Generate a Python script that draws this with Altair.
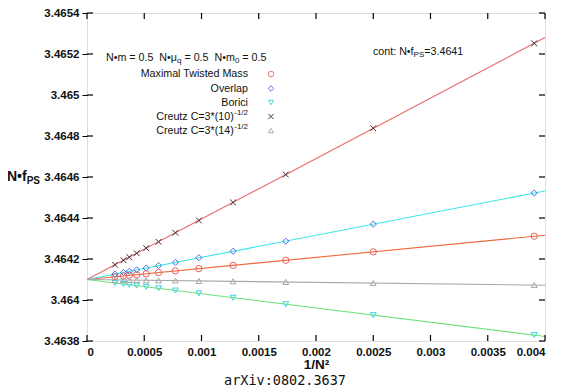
import altair as alt
import pandas as pd

# ---------------- data ----------------
x_vals = [0.003906, 0.0025, 0.001736, 0.001276, 0.000977, 0.000772,
          0.000625, 0.000517, 0.000434, 0.000370, 0.000319, 0.000244]

mtm = [3.464311, 3.464235, 3.464194, 3.464169, 3.464153, 3.464142,
       3.464134, 3.464128, 3.464123, 3.464120, 3.464117, 3.464113]
overlap = [3.464522, 3.464370, 3.464287, 3.464238, 3.464206, 3.464183,
           3.464168, 3.464156, 3.464147, 3.464140, 3.464134, 3.464126]
borici = [3.463829, 3.463926, 3.463979, 3.464011, 3.464032, 3.464046,
          3.464057, 3.464064, 3.464070, 3.464074, 3.464078, 3.464083]
creutz10 = [3.465252, 3.464838, 3.464612, 3.464476, 3.464388, 3.464328,
            3.464284, 3.464253, 3.464228, 3.464209, 3.464194, 3.464172]
creutz14 = [3.464073, 3.464083, 3.464088, 3.464091, 3.464093, 3.464095,
            3.464096, 3.464096, 3.464097, 3.464097, 3.464098, 3.464098]

fit_x = [0.0, 0.004]
fit_mtm = [3.4641, 3.464316]
fit_overlap = [3.4641, 3.464532]
fit_borici = [3.4641, 3.463822]
fit_creutz10 = [3.4641, 3.46528]
fit_creutz14 = [3.4641, 3.464072]

x_ticks = [0, 0.0005, 0.001, 0.0015, 0.002, 0.0025, 0.003, 0.0035, 0.004]
y_ticks = [3.4638, 3.464, 3.4642, 3.4644, 3.4646, 3.4648, 3.465, 3.4652, 3.4654]

# ---------------- layout / style ----------------
W, H = 458, 328
FONT = "Liberation Sans"
CROSS = "M-1,-1L1,1M-1,1L1,-1"

series = [
    # name, values, fit, line colour, point colour, shape, size
    ("Maximal Twisted Mass", mtm, fit_mtm, "#f06a3c", "#e86060", "circle", 40),
    ("Overlap", overlap, fit_overlap, "#3ee6e6", "#5070e0", "diamond", 38),
    ("Borici", borici, fit_borici, "#6ee07a", "#38d4e4", "triangle-down", 34),
    ("Creutz10", creutz10, fit_creutz10, "#e86a6a", "#3e2c2c", CROSS, 34),
    ("Creutz14", creutz14, fit_creutz14, "#a8a8a8", "#a8a8a8", "triangle-up", 34),
]

xscale = alt.Scale(domain=[0, 0.004], nice=False, zero=False)
yscale = alt.Scale(domain=[3.4638, 3.4654], nice=False, zero=False)

# Arial / Liberation Sans advance widths (1/1000 em)
REG = {' ': 278, '\u00a0': 278, '•': 350, '=': 584, '.': 278, 'N': 722, 'm': 833,
       'μ': 576, 'q': 556, 'c': 500, 'o': 556, 'n': 556, 't': 278, ':': 278,
       'f': 278, 'P': 667, 'S': 667, '-': 333, '/': 278}
for d in "0123456789":
    REG[d] = 556
BOLD = {'N': 722, '•': 350, 'f': 333, 'P': 667, 'S': 667}


def width(s, size, bold=False):
    tab = BOLD if bold else REG
    return sum(tab.get(ch, 556) for ch in s) * size / 1000.0


def txt(s, x, y, size, align="left", weight="normal", font=FONT, color="#111111"):
    return alt.Chart(pd.DataFrame({"t": [s]})).mark_text(
        align=align, baseline="middle", font=font, fontSize=size,
        fontWeight=weight, color=color
    ).encode(x=alt.value(x), y=alt.value(y), text="t:N")


def run(pieces, x0, y0):
    """pieces: list of (text, size, dy, bold); leading blanks become offsets"""
    layers = []
    x = x0
    for s, size, dy, bold in pieces:
        lead = len(s) - len(s.lstrip(" "))
        x += width(" " * lead, size, bold)
        s2 = s.lstrip(" ").replace(" ", "\u00a0")
        layers.append(txt(s2, x, y0 + dy, size, weight="bold" if bold else "normal"))
        x += width(s2, size, bold)
    return layers


xaxis = alt.Axis(values=x_ticks, format="~g", ticks=False, domain=False, grid=False,
                 labelFont=FONT, labelFontWeight="bold", labelFontSize=11.5,
                 labelColor="#111111", labelPadding=5,
                 title="1/N²", titleFont=FONT, titleFontWeight="bold",
                 titleFontSize=13.5, titleColor="#111111", titlePadding=0)
yaxis = alt.Axis(values=y_ticks, format=".5~g", ticks=True, tickSize=5,
                 tickColor="black", domain=False, grid=False,
                 labelFont=FONT, labelFontWeight="bold", labelFontSize=11.5,
                 labelColor="#111111", labelPadding=3, title=None)


def X(field):
    return alt.X(field, scale=xscale, axis=xaxis)


def Y(field):
    return alt.Y(field, scale=yscale, axis=yaxis)


layers = []

# fit lines
fit_rows = []
for name, vals, fit, lc, pc, shp, sz in series:
    for xv, yv in zip(fit_x, fit):
        fit_rows.append({"series": name, "x": xv, "y": yv})
fit_df = pd.DataFrame(fit_rows)

layers.append(
    alt.Chart(fit_df).mark_line(strokeWidth=1.1).encode(
        x=X("x:Q"), y=Y("y:Q"),
        color=alt.Color("series:N",
                        scale=alt.Scale(domain=[s[0] for s in series],
                                        range=[s[3] for s in series]),
                        legend=None),
    )
)

# data points
for name, vals, fit, lc, pc, shp, sz in series:
    df = pd.DataFrame({"x": x_vals, "y": vals})
    layers.append(
        alt.Chart(df).mark_point(shape=shp, filled=False, size=sz, color=pc,
                                 strokeWidth=1, opacity=1).encode(
            x=X("x:Q"), y=Y("y:Q"),
        )
    )

# inward ticks on all four sides
xt = pd.DataFrame({"x": x_ticks})
yt = pd.DataFrame({"y": y_ticks})
layers.append(alt.Chart(xt).mark_rule(color="black", strokeWidth=1.2).encode(
    x=X("x:Q"), y=alt.value(H), y2=alt.value(H - 6)))
layers.append(alt.Chart(xt).mark_rule(color="black", strokeWidth=1.2).encode(
    x=X("x:Q"), y=alt.value(0), y2=alt.value(6)))
layers.append(alt.Chart(yt).mark_rule(color="black", strokeWidth=1.2).encode(
    y=Y("y:Q"), x=alt.value(0), x2=alt.value(6)))
layers.append(alt.Chart(yt).mark_rule(color="black", strokeWidth=1.2).encode(
    y=Y("y:Q"), x=alt.value(W - 6), x2=alt.value(W)))

# key block
LS = 10.7
layers += run([("N•m = 0.5  N•μ", LS, 0, False), ("q", 8, 3, False),
               (" = 0.5  N•m", LS, 0, False), ("0", 8, 3, False),
               (" = 0.5", LS, 0, False)], 19, 45)

key_y = [61, 75.5, 89.5, 103.5, 117.5]
right = 161
sup_w = width("-1/2", 8)
layers.append(txt("Maximal Twisted Mass", right, key_y[0], LS, align="right"))
layers.append(txt("Overlap", right, key_y[1], LS, align="right"))
layers.append(txt("Borici", right, key_y[2], LS, align="right"))
layers.append(txt("Creutz C=3*(10)", right - sup_w - 0.5, key_y[3], LS, align="right"))
layers.append(txt("-1/2", right - sup_w, key_y[3] - 4, 8))
layers.append(txt("Creutz C=3*(14)", right - sup_w - 0.5, key_y[4], LS, align="right"))
layers.append(txt("-1/2", right - sup_w, key_y[4] - 4, 8))

key_colors = ["#f07878", "#6a6ae0", "#40e0e0", "#404040", "#b0b0b0"]
for (name, vals, fit, lc, pc, shp, sz), ky, kc in zip(series, key_y, key_colors):
    layers.append(
        alt.Chart(pd.DataFrame({"k": [name]})).mark_point(
            shape=shp, filled=False, size=sz * 0.8, color=kc, strokeWidth=1, opacity=1
        ).encode(x=alt.value(184), y=alt.value(ky))
    )

# continuum value annotation
layers += run([("cont: N•f", LS, 0, False), ("PS", 8, 3, False),
               ("=3.4641", LS, 0, False)], 286, 39)

# y-axis title N•f_PS
layers += run([("N•f", 14, 0, True), ("PS", 10, 4, True)], -80, 164)

# source line
layers.append(txt("arXiv:0802.3637", 198, 368, 13.5, align="center",
                  font="DejaVu Sans Mono", color="#111111"))

chart = alt.layer(*layers).properties(
    width=W, height=H,
    padding={"left": 79, "top": 5, "right": 9, "bottom": 46},
    autosize=alt.AutoSizeParams(type="none"),
).configure_view(stroke="black", strokeWidth=1.8).configure(background="white")

chart.save("out.html", embed_options={"renderer": "svg", "actions": False})
